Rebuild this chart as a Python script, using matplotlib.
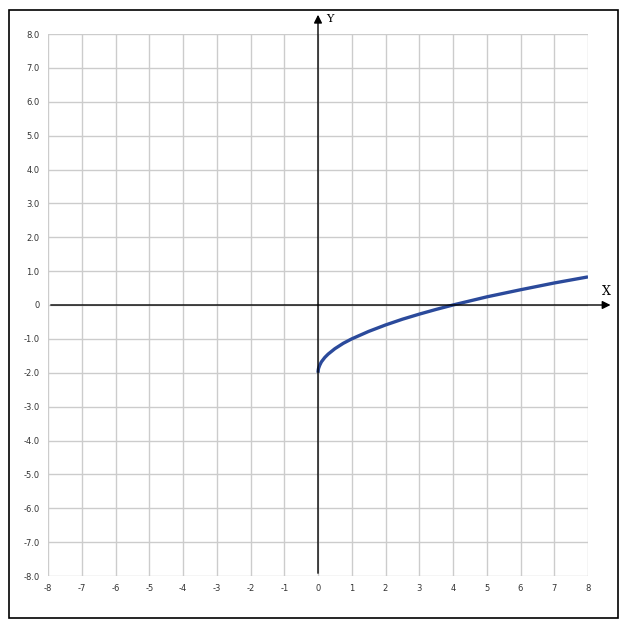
import numpy as np
import matplotlib.pyplot as plt
from matplotlib.patches import Rectangle

# curve
curve_x = [0, 0.01, 0.02, 0.05, 0.1, 0.2, 0.3, 0.5, 0.75, 1, 1.5, 2, 2.5, 3, 3.5, 4, 5, 6, 7, 8]
curve_y = [-2, -1.9, -1.86, -1.78, -1.68, -1.55, -1.45, -1.29, -1.13, -1.0, -0.78, -0.59,
           -0.42, -0.27, -0.13, 0, 0.24, 0.45, 0.65, 0.83]

x_ticks = list(range(-8, 9))
y_ticks = list(range(-8, 9))
y_labels = ["0" if v == 0 else f"{v:.1f}" for v in y_ticks]

fig = plt.figure(figsize=(6.27, 6.30), dpi=100)
fig.patches.append(Rectangle((9 / 627, 12 / 630), 609 / 627, 608 / 630, transform=fig.transFigure,
                             fill=False, edgecolor="black", linewidth=1.2))

ax = fig.add_axes([48 / 627, 54 / 630, 540 / 627, 542 / 630])
ax.set_xlim(-8, 8)
ax.set_ylim(-8, 8)
for s in ax.spines.values():
    s.set_visible(False)

ax.set_xticks(x_ticks)
ax.set_yticks(y_ticks)
ax.set_xticklabels([str(v) for v in x_ticks])
ax.set_yticklabels(y_labels)
ax.tick_params(length=0, labelsize=6, colors="#333333", pad=6)
ax.grid(True, color="#cccccc", linewidth=1)
ax.set_axisbelow(True)

# axes with arrows
ax.annotate("", xy=(8.75, 0), xytext=(-8, 0), annotation_clip=False,
            arrowprops=dict(arrowstyle="-|>", color="black", lw=1, mutation_scale=12))
ax.annotate("", xy=(0, 8.65), xytext=(0, -8), annotation_clip=False,
            arrowprops=dict(arrowstyle="-|>", color="black", lw=1, mutation_scale=12))
ax.text(8.55, 0.2, "X", family="DejaVu Serif", fontsize=9, ha="center", va="bottom", clip_on=False)
ax.text(0.25, 8.45, "Y", family="DejaVu Serif", fontsize=8, ha="left", va="center", clip_on=False)

ax.plot(curve_x, curve_y, color="#2b4a9b", linewidth=2.4, solid_capstyle="butt")

plt.savefig("out.png", dpi=100)
